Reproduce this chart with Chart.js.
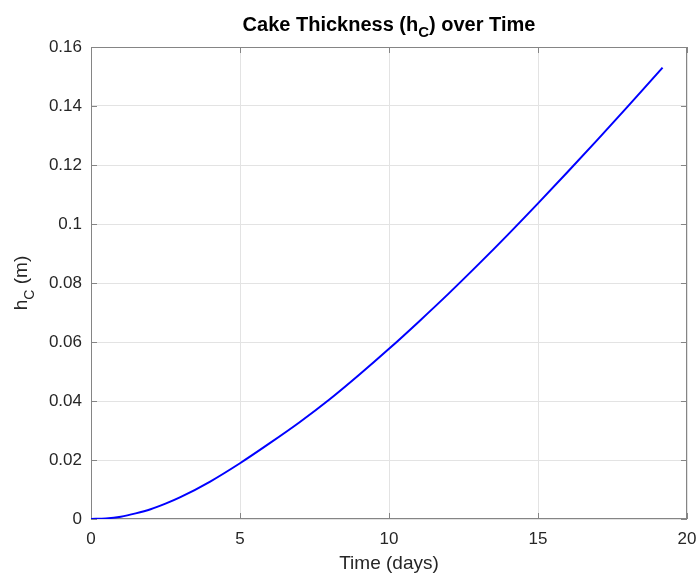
<!DOCTYPE html>
<html>
<head>
<meta charset="utf-8">
<title>Cake Thickness over Time</title>
<script src="https://cdn.jsdelivr.net/npm/chart.js@4/dist/chart.umd.min.js"></script>
<style>
    html, body { margin: 0; padding: 0; background: #ffffff; }
    #wrap { width: 700px; height: 576px; }
</style>
</head>
<body>
<div id="wrap"><canvas id="cakeChart" width="700" height="576"></canvas></div>
<script>
// Cake thickness vs. time

const days = [0, 0.5, 1, 1.5, 2, 2.5, 3, 4, 5, 6, 7, 8, 9, 10, 11, 12, 13, 14, 15, 16, 17, 18, 19, 19.18];
const thickness = [0, 0.0002, 0.0008, 0.0019, 0.0033, 0.0052, 0.0074, 0.0127, 0.0189, 0.0257, 0.0328, 0.0405,
    0.0489, 0.0577, 0.0669, 0.0764, 0.0863, 0.0965, 0.1070, 0.1177, 0.1286, 0.1397, 0.1510, 0.1530];

const xTicks = [0, 5, 10, 15, 20];
const yTicks = [0, 0.02, 0.04, 0.06, 0.08, 0.1, 0.12, 0.14, 0.16];

const FONT = "'Liberation Sans', Arial, Helvetica, sans-serif";
const AXIS_GRAY = "#858585";
const TEXT_GRAY = "#262626";

// draw a string made of normal + subscript parts, centred on (0,0)
function drawParts(ctx, parts, y) {
    let total = 0;
    parts.forEach(p => {
        ctx.font = p.font;
        p.w = ctx.measureText(p.text).width;
        total += p.w;
    });
    let x = -total / 2;
    parts.forEach(p => {
        ctx.font = p.font;
        ctx.fillText(p.text, x, y + (p.dy || 0));
        x += p.w;
    });
}

// MATLAB-like box, inward ticks and text with subscripts
const axesDecor = {
    id: "axesDecor",
    beforeDatasetsDraw(chart) {
        const ctx = chart.ctx;
        const a = chart.chartArea;
        const xs = chart.scales.x;
        const ys = chart.scales.y;
        ctx.save();
        ctx.strokeStyle = AXIS_GRAY;
        ctx.lineWidth = 1;
        ctx.strokeRect(a.left + 0.5, a.top + 0.5, a.right - a.left - 1, a.bottom - a.top - 1);
        ctx.beginPath();
        xTicks.forEach(v => {
            const px = Math.round(xs.getPixelForValue(v)) + 0.5;
            ctx.moveTo(px, a.bottom); ctx.lineTo(px, a.bottom - 6);
            ctx.moveTo(px, a.top); ctx.lineTo(px, a.top + 6);
        });
        yTicks.forEach(v => {
            const py = Math.round(ys.getPixelForValue(v)) + 0.5;
            ctx.moveTo(a.left, py); ctx.lineTo(a.left + 6, py);
            ctx.moveTo(a.right, py); ctx.lineTo(a.right - 6, py);
        });
        ctx.stroke();
        ctx.restore();
    },
    afterDraw(chart) {
        const ctx = chart.ctx;
        const a = chart.chartArea;
        const cx = (a.left + a.right) / 2;
        const cy = (a.top + a.bottom) / 2;
        ctx.save();
        ctx.fillStyle = "#000000";
        ctx.textBaseline = "alphabetic";
        ctx.textAlign = "left";

        // title
        ctx.translate(cx, 0);
        drawParts(ctx, [
            { text: "Cake Thickness (h", font: "bold 20px " + FONT },
            { text: "C", font: "bold 15px " + FONT, dy: 6 },
            { text: ") over Time", font: "bold 20px " + FONT }
        ], 31);
        ctx.setTransform(1, 0, 0, 1, 0, 0);

        // x label
        ctx.fillStyle = TEXT_GRAY;
        ctx.translate(cx, 0);
        drawParts(ctx, [{ text: "Time (days)", font: "19px " + FONT }], 569);
        ctx.setTransform(1, 0, 0, 1, 0, 0);

        // y label
        ctx.translate(27, cy);
        ctx.rotate(-Math.PI / 2);
        drawParts(ctx, [
            { text: "h", font: "19px " + FONT },
            { text: "C", font: "14px " + FONT, dy: 7 },
            { text: " (m)", font: "19px " + FONT }
        ], 0);
        ctx.restore();
    }
};

const ctx = document.getElementById("cakeChart");
const cakeChart = new Chart(ctx, {
    type: "line",
    data: {
        datasets: [{
            label: "h_C",
            data: days.map((d, i) => ({ x: d, y: thickness[i] })),
            borderColor: "#0000ff",
            borderWidth: 2,
            pointRadius: 0,
            cubicInterpolationMode: "monotone",
            fill: false
        }]
    },
    options: {
        responsive: false,
        animation: false,
        layout: { padding: { top: 47, right: 13, left: 0, bottom: 0 } },
        plugins: {
            legend: { display: false },
            title: { display: false },
            tooltip: { enabled: false }
        },
        scales: {
            x: {
                type: "linear",
                min: 0,
                max: 20,
                afterBuildTicks: s => { s.ticks = xTicks.map(v => ({ value: v })); },
                afterFit: s => { s.height = 57; s.paddingLeft = 0; s.paddingRight = 0; },
                grid: { color: "#e3e3e3", drawTicks: false },
                border: { display: false },
                ticks: {
                    padding: 10,
                    color: TEXT_GRAY,
                    font: { family: FONT, size: 17 },
                    maxRotation: 0,
                    callback: v => String(v)
                }
            },
            y: {
                type: "linear",
                min: 0,
                max: 0.16,
                afterBuildTicks: s => { s.ticks = yTicks.map(v => ({ value: v })); },
                afterFit: s => { s.width = 91; s.paddingTop = 0; s.paddingBottom = 0; },
                grid: { color: "#e3e3e3", drawTicks: false },
                border: { display: false },
                ticks: {
                    padding: 9,
                    color: TEXT_GRAY,
                    font: { family: FONT, size: 17 },
                    callback: v => String(+v.toFixed(2))
                }
            }
        }
    },
    plugins: [axesDecor]
});
</script>
</body>
</html>
